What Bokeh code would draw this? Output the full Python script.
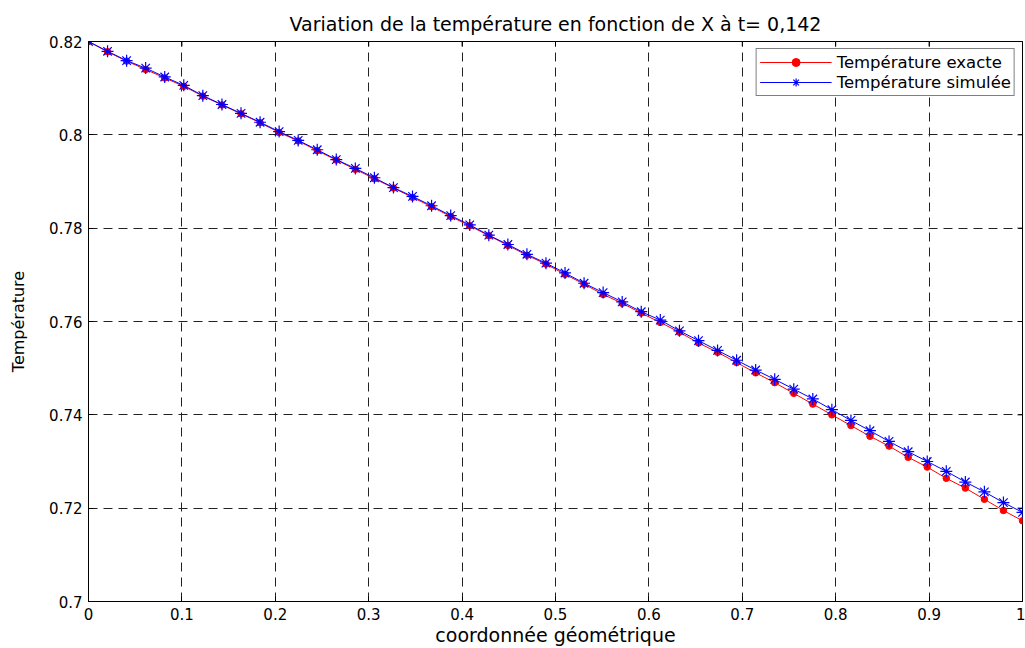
from bokeh.plotting import figure
from bokeh.models import FixedTicker, Range1d
from bokeh.embed import file_html
from bokeh.resources import INLINE

# ---- data ----
x_coord = [0.0, 0.0204, 0.0408, 0.0612, 0.0816, 0.1020, 0.1224, 0.1429, 0.1633, 0.1837,
           0.2041, 0.2245, 0.2449, 0.2653, 0.2857, 0.3061, 0.3265, 0.3469, 0.3673, 0.3878,
           0.4082, 0.4286, 0.4490, 0.4694, 0.4898, 0.5102, 0.5306, 0.5510, 0.5714, 0.5918,
           0.6122, 0.6327, 0.6531, 0.6735, 0.6939, 0.7143, 0.7347, 0.7551, 0.7755, 0.7959,
           0.8163, 0.8367, 0.8571, 0.8776, 0.8980, 0.9184, 0.9388, 0.9592, 0.9796, 1.0]

temp_exacte = [0.8200, 0.8178, 0.8158, 0.8140, 0.8122, 0.8104, 0.8083, 0.8064, 0.8045, 0.8026,
               0.8005, 0.7987, 0.7966, 0.7946, 0.7926, 0.7906, 0.7886, 0.7866, 0.7846, 0.7825,
               0.7805, 0.7784, 0.7763, 0.7742, 0.7723, 0.7701, 0.7680, 0.7658, 0.7639, 0.7618,
               0.7598, 0.7577, 0.7554, 0.7534, 0.7512, 0.7490, 0.7469, 0.7446, 0.7423, 0.7400,
               0.7377, 0.7354, 0.7333, 0.7309, 0.7288, 0.7264, 0.7243, 0.7219, 0.7195, 0.7173]

temp_simulee = [0.8200, 0.8179, 0.8159, 0.8143, 0.8124, 0.8106, 0.8084, 0.8065, 0.8046, 0.8027,
                0.8007, 0.7988, 0.7968, 0.7947, 0.7928, 0.7908, 0.7887, 0.7868, 0.7848, 0.7827,
                0.7807, 0.7785, 0.7765, 0.7744, 0.7725, 0.7704, 0.7682, 0.7662, 0.7642, 0.7621,
                0.7603, 0.7580, 0.7559, 0.7538, 0.7517, 0.7496, 0.7476, 0.7455, 0.7434, 0.7411,
                0.7388, 0.7366, 0.7343, 0.7321, 0.7300, 0.7279, 0.7256, 0.7235, 0.7212, 0.7191]

x_ticks = [0.0, 0.1, 0.2, 0.3, 0.4, 0.5, 0.6, 0.7, 0.8, 0.9, 1.0]
x_tick_labels = ["0", "0.1", "0.2", "0.3", "0.4", "0.5", "0.6", "0.7", "0.8", "0.9", "1"]
y_ticks = [0.70, 0.72, 0.74, 0.76, 0.78, 0.80, 0.82]
y_tick_labels = ["0.7", "0.72", "0.74", "0.76", "0.78", "0.8", "0.82"]

title_text = "Variation de la température en fonction de X à t= 0,142"
x_label = "coordonnée géométrique"
y_label = "Température"
label_exacte = "Température exacte"
label_simulee = "Température simulée"

FONT = "DejaVu Sans"

p = figure(width=1025, height=648, output_backend="svg", toolbar_location=None,
           x_range=Range1d(x_ticks[0], x_ticks[-1]), y_range=Range1d(y_ticks[0], y_ticks[-1]),
           min_border_left=88, min_border_right=3, min_border_top=41, min_border_bottom=46,
           title=title_text)
p.background_fill_color = "white"
p.border_fill_color = "white"
p.outline_line_color = "black"
p.outline_line_width = 1

p.title.align = "center"
p.title.vertical_align = "top"
p.title.text_font = FONT
p.title.text_font_size = "19px"
p.title.text_font_style = "normal"
p.title.text_color = "black"
p.title.standoff = 10

# main axes
for ax, ticks, labels in ((p.xaxis[0], x_ticks, x_tick_labels), (p.yaxis[0], y_ticks, y_tick_labels)):
    ax.ticker = FixedTicker(ticks=ticks)
    ax.major_label_overrides = {t: l for t, l in zip(ticks, labels)}
    ax.major_tick_in = 5
    ax.major_tick_out = 0
    ax.minor_tick_line_color = None
    ax.axis_line_color = "black"
    ax.major_tick_line_color = "black"
    ax.major_label_text_font = FONT
    ax.major_label_text_font_size = "15px"
    ax.major_label_text_color = "black"
    ax.axis_label_text_font = FONT
    ax.axis_label_text_font_style = "normal"
    ax.axis_label_text_color = "black"
    ax.major_label_standoff = 6

p.xaxis.axis_label = x_label
p.xaxis.axis_label_text_font_size = "19px"
p.xaxis.axis_label_standoff = 1
p.yaxis.axis_label = y_label
p.yaxis.axis_label_text_font_size = "16px"
p.yaxis.axis_label_standoff = 18

# grid
for g in (p.xgrid[0], p.ygrid[0]):
    g.grid_line_color = "#222222"
    g.grid_line_dash = "9 6"
    g.grid_line_width = 1
p.xgrid.ticker = FixedTicker(ticks=x_ticks)
p.ygrid.ticker = FixedTicker(ticks=y_ticks)

# inward ticks on the top and right edges of the box (half of each dash is clipped by the frame)
p.scatter([t for t in x_ticks], [y_ticks[-1]] * len(x_ticks), marker="dash", angle=1.5708,
          size=10, line_color="black", line_width=1)
p.scatter([x_ticks[-1]] * len(y_ticks), [t for t in y_ticks], marker="dash",
          size=10, line_color="black", line_width=1)

# series
p.line(x_coord, temp_exacte, line_color="red", line_width=1, legend_label=label_exacte)
p.scatter(x_coord, temp_exacte, marker="circle", size=6.5, fill_color="red", line_color="red",
          legend_label=label_exacte)
p.line(x_coord, temp_simulee, line_color="blue", line_width=1, legend_label=label_simulee)
p.scatter(x_coord, temp_simulee, marker="asterisk", size=12, line_color="blue", line_width=1.2,
          legend_label=label_simulee)

leg = p.legend[0]
leg.location = "top_right"
leg.margin = 7
leg.padding = 3
leg.spacing = 0
leg.glyph_width = 72
leg.glyph_height = 20
leg.label_height = 20
leg.label_standoff = 5
leg.label_text_font = FONT
leg.label_text_font_size = "16.5px"
leg.label_text_color = "black"
leg.border_line_color = "black"
leg.border_line_width = 1
leg.background_fill_color = "white"
leg.background_fill_alpha = 1.0

open("out.html", "w").write(file_html(p, INLINE))
